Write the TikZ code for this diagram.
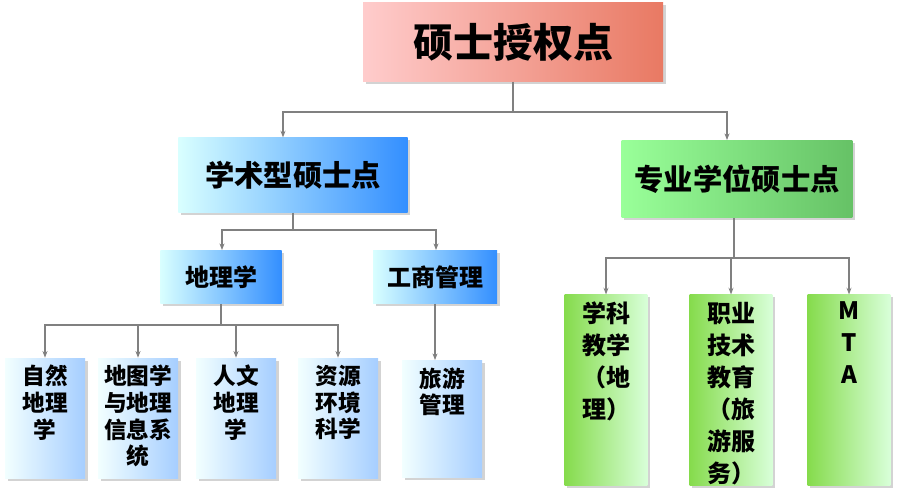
\documentclass[tikz,border=0pt]{standalone}
\usepackage{fontspec}
\newfontfamily\cjk{Noto Sans CJK SC}
\usetikzlibrary{arrows.meta,shadows}
\tikzset{
    box/.style = {
        align=center,
        inner sep=0pt,
        font=\cjk\bfseries,
        rectangle,
        drop shadow={shadow xshift=2pt,shadow yshift=-2pt,opacity=0.35}
    },
    titlebox/.style = {
        box, left color=red!20!white, right color=red!50!brown!70!white,
        minimum width=225pt, minimum height=59pt, font=\cjk\bfseries\fontsize{30}{32}\selectfont
    },
    bluebox/.style = {
        box, left color=cyan!15!white, right color=blue!55!cyan!80!white,
        font=\cjk\bfseries\fontsize{22}{24}\selectfont
    },
    greenbox/.style = {
        box, left color=green!40!white, right color=green!60!black!60!white,
        font=\cjk\bfseries\fontsize{22}{24}\selectfont
    },
    leaf/.style = {
        box, left color=cyan!5!white, right color=cyan!45!blue!35!white,
        minimum width=60pt, minimum height=90pt
    },
    gleaf/.style = {
        box, left color=green!60!yellow!80!black!70!white, right color=green!15!white,
        minimum width=62pt, minimum height=143pt
    },
    link/.style = {draw=gray, line width=0.8pt, -{Stealth[length=5pt]}}
}
\begin{document}
\begin{tikzpicture}[x=0.75pt, y=-0.75pt]
    \useasboundingbox (0,0) rectangle (899,496);
    \node [titlebox] (top) at (513,42) {硕士授权点};
    \node [bluebox, minimum width=172pt, minimum height=56pt] (acad) at (293,175) {学术型硕士点};
    \node [greenbox, minimum width=173pt, minimum height=58pt] (prof) at (737,179) {专业学位硕士点};
    \node [bluebox, font=\cjk\bfseries\fontsize{18}{20}\selectfont, minimum width=91pt, minimum height=40pt] (geo) at (221,277) {地理学};
    \node [bluebox, font=\cjk\bfseries\fontsize{18}{20}\selectfont, minimum width=93pt, minimum height=40pt] (biz) at (435,277) {工商管理};
    % leaves
    \node [leaf] (l1) at (45,418) {};
    \node [leaf] (l2) at (138,418) {};
    \node [leaf] (l3) at (236,418) {};
    \node [leaf] (l4) at (338,418) {};
    \node [leaf, minimum height=88pt] (l5) at (442,419) {};
    \node [gleaf] (g1) at (606,390) {};
    \node [gleaf] (g2) at (731,390) {};
    \node [gleaf] (g3) at (849,390) {};
    \foreach \n/\t in {l1/{自然\\地理\\学}, l2/{地图学\\与地理\\信息系\\统}, l3/{人文\\地理\\学},
                       l4/{资源\\环境\\科学}, l5/{旅游\\管理}} {
        \node [anchor=north, align=center, font=\cjk\bfseries\fontsize{17}{20}\selectfont]
            at ([yshift=-2pt]\n.north) {\t};
    }
    \foreach \n/\t in {g1/{学科\\教学\\（地\\理）}, g2/{职业\\技术\\教育\\（旅\\游服\\务）}, g3/{M\\T\\A}} {
        \node [anchor=north, align=center, font=\cjk\bfseries\fontsize{18}{24}\selectfont]
            at ([yshift=-2pt]\n.north) {\t};
    }
    % connectors
    \coordinate (t1) at (513,112);
    \draw [draw=gray, line width=0.8pt] (top.south) -- (t1);
    \draw [link] (t1) -| (acad.north -| 283,0);
    \draw [link] (t1) -| (prof.north -| 727,0);
    \coordinate (a1) at (293,230);
    \draw [draw=gray, line width=0.8pt] (acad.south) -- (a1);
    \draw [link] (a1) -| (geo.north -| 222,0);
    \draw [link] (a1) -| (biz.north -| 436,0);
    \coordinate (b1) at (221,325);
    \draw [draw=gray, line width=0.8pt] (geo.south) -- (b1);
    \foreach \n in {l1,l2,l3,l4} \draw [link] (b1) -| (\n.north);
    \draw [link] (biz.south) -- (biz.south |- l5.north);
    \coordinate (p1) at (734,258);
    \draw [draw=gray, line width=0.8pt] (prof.south -| p1) -- (p1);
    \foreach \n in {g1,g2,g3} \draw [link] (p1) -| (\n.north);
\end{tikzpicture}
\end{document}
